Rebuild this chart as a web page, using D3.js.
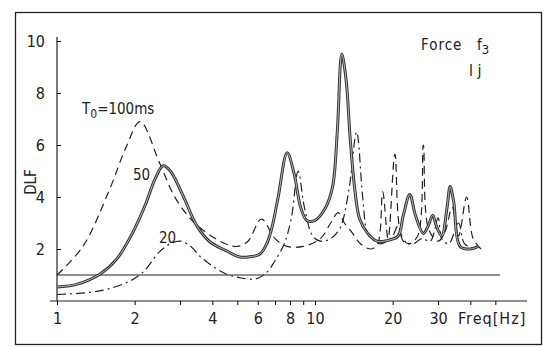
<!DOCTYPE html>
<html>
<head>
<meta charset="utf-8">
<script src="https://cdn.jsdelivr.net/npm/d3@7"></script>
<style>
	body { margin: 0; background: #fff; }
	svg text { font-family: "Liberation Sans Narrow", "DejaVu Sans Condensed", sans-serif; fill: #222; }
</style>
</head>
<body>
<div id="chart"></div>
<script>
var d3 = window.d3;

// [freq Hz, DLF]
var curve100 = [[1,1.0],[1.26,2.1],[1.6,4.3],[1.85,5.9],[2.1,6.9],[2.5,5.3],[2.9,3.9],[3.5,2.9],[4.5,2.2],
	[5.0,2.1],[5.5,2.3],[6.2,3.15],[7.0,2.4],[7.8,2.1],[9.0,2.1],[10.5,2.4],[11.5,3.0],[12.3,3.4],[13,3.0],
	[14,2.6],[15,2.2],[16.5,2.0],[17.5,2.2],[18.3,4.2],[19.2,2.4],[20.4,5.65],[21.5,2.6],[23,2.2],[25,2.5],
	[26.3,6.0],[27.5,2.8],[30,2.3],[32,2.7],[34,3.6],[36,2.5],[38.7,4.0],[41,2.4],[44,2.0]];
var curve50 = [[1,0.54],[1.2,0.65],[1.47,1.04],[1.7,1.6],[1.97,2.65],[2.2,3.7],[2.4,4.7],[2.58,5.2],[2.75,5.0],
	[3.08,4.05],[3.48,2.9],[3.92,2.27],[4.5,1.95],[5.12,1.69],[5.6,1.7],[6.1,1.8],[6.5,2.2],[6.8,2.8],[7.2,4.0],
	[7.8,5.7],[8.3,4.9],[8.8,3.6],[9.3,3.1],[10,3.1],[11,3.6],[11.7,4.4],[12.2,6.5],[12.7,9.5],[13.2,8.5],
	[13.7,6.2],[14.3,4.2],[14.9,3.15],[16,2.6],[17.4,2.3],[18.5,2.3],[19.5,2.35],[21,2.5],[22,3.3],[23.3,4.1],
	[24.5,3.3],[26.3,2.6],[27.5,2.9],[28.6,3.3],[29.5,2.9],[31,2.5],[32.5,3.6],[33.4,4.4],[34.5,3.8],[36.5,2.1],
	[40,2.0],[43,2.1]];
var curve20 = [[1,0.25],[1.3,0.32],[1.56,0.45],[1.9,0.75],[2.15,1.1],[2.5,1.9],[2.75,2.2],[3.0,2.3],[3.3,2.1],
	[3.6,1.7],[4.0,1.35],[4.5,1.05],[5.1,0.9],[5.9,0.85],[6.5,1.1],[7.0,1.55],[7.6,2.2],[8.1,3.2],[8.6,5.0],
	[9.1,3.6],[9.8,2.5],[10.5,2.3],[11.5,2.4],[12.5,2.8],[13.5,4.2],[14.5,6.5],[15.3,4.0],[16,2.6],[17,2.3],
	[18,2.2],[19,2.3],[20,2.5],[21,2.9],[22,2.3],[24,2.2],[26,2.4],[28,2.3],[30,3.2],[31,2.4],[33,2.2],
	[36,3.0],[38,2.2],[42,2.0]];

var xTicks = [1,2,3,4,5,6,7,8,9,10,20,30,40,50];
var xLabels = {1:"1", 2:"2", 4:"4", 6:"6", 8:"8", 10:"10", 20:"20", 30:"30"};
var yTicks = [2,4,6,8,10];
var refLevel = 1;

var width = 551, height = 347;

var svg = d3.select("#chart").append("svg")
	.attr("width", width)
	.attr("height", height);

// frame round the figure
svg.append("rect")
	.attr("x", 15.5).attr("y", 12.5)
	.attr("width", 526).attr("height", 332)
	.attr("fill", "none").attr("stroke", "#222").attr("stroke-width", 1.3);

var x = d3.scaleLog().domain([1, 10]).range([57, 315]);
var y = d3.scaleLinear().domain([0, 10]).range([301, 41]);

// x axis
var xAxis = d3.axisBottom(x)
	.tickValues(xTicks)
	.tickSize(4)
	.tickPadding(8)
	.tickFormat(function(d){ return xLabels[d] || ""; });
var gx = svg.append("g").attr("transform", "translate(0," + y(0) + ")").call(xAxis);
gx.select(".domain").remove();
gx.append("line")
	.attr("x1", 50).attr("x2", 527)
	.attr("stroke", "#222").attr("stroke-width", 1.2);
gx.selectAll("text").style("font-size", "16px");

// y axis, ticks point inward
var yAxis = d3.axisLeft(y)
	.tickValues(yTicks)
	.tickSize(-4)
	.tickPadding(12);
var gy = svg.append("g").attr("transform", "translate(" + x(1) + ",0)").call(yAxis);
gy.select(".domain").remove();
gy.append("line")
	.attr("y1", y(0)).attr("y2", y(10) - 4)
	.attr("stroke", "#222").attr("stroke-width", 1.2);
gy.selectAll("text").style("font-size", "16px");

svg.append("text")
	.attr("transform", "translate(36,182) rotate(-90)")
	.attr("text-anchor", "middle")
	.style("font-size", "15px")
	.text("DLF");

// DLF = 1 reference line
svg.append("line")
	.attr("x1", x(1)).attr("x2", 500)
	.attr("y1", y(refLevel)).attr("y2", y(refLevel))
	.attr("stroke", "#222").attr("stroke-width", 1);

var line = d3.line()
	.x(function(d){ return x(d[0]); })
	.y(function(d){ return y(d[1]); })
	.curve(d3.curveCatmullRom.alpha(0.5));

svg.append("path").datum(curve100)
	.attr("d", line).attr("fill", "none")
	.attr("stroke", "#222").attr("stroke-width", 1.2)
	.attr("stroke-dasharray", "8,5");

svg.append("path").datum(curve20)
	.attr("d", line).attr("fill", "none")
	.attr("stroke", "#222").attr("stroke-width", 1.2)
	.attr("stroke-dasharray", "9,4,2,4");

// solid line looks double stroked on the scan
svg.append("path").datum(curve50)
	.attr("d", line).attr("fill", "none")
	.attr("stroke", "#333").attr("stroke-width", 3);
svg.append("path").datum(curve50)
	.attr("d", line).attr("fill", "none")
	.attr("stroke", "#bbb").attr("stroke-width", 1);

// labels
var t0 = svg.append("text").attr("x", 82).attr("y", 114).style("font-size", "15px");
t0.append("tspan").text("T");
t0.append("tspan").attr("dy", 4).style("font-size", "12px").text("0");
t0.append("tspan").attr("dy", -4).text("=100ms");

svg.append("text").attr("x", 133).attr("y", 180).style("font-size", "15px").text("50");
svg.append("text").attr("x", 159).attr("y", 243).style("font-size", "15px").text("20");

var force = svg.append("text").attr("y", 50).style("font-size", "15px");
force.append("tspan").attr("x", 421).attr("letter-spacing", "1px").text("Force");
force.append("tspan").attr("x", 477).text("f");
force.append("tspan").attr("dy", 4).style("font-size", "13px").text("3");

svg.append("text").attr("x", 469).attr("y", 76).style("font-size", "16px").text("l j");

svg.append("text").attr("x", 458).attr("y", 318).attr("dy", "0.35em")
	.attr("letter-spacing", "1px").style("font-size", "16px").text("Freq[Hz]");
</script>
</body>
</html>
